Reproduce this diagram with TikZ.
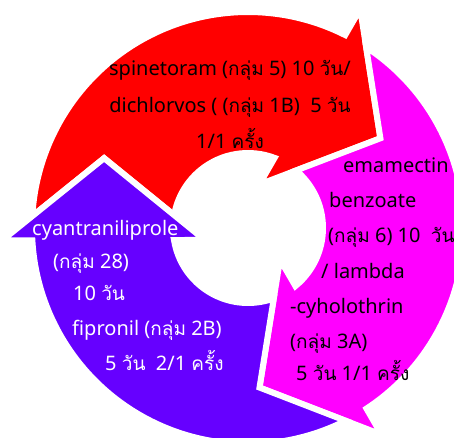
\documentclass[tikz,border=0pt]{standalone}
\usepackage{fontspec}
\setmainfont{Noto Sans}
\newfontfamily\thf[Script=Thai,Scale=0.95]{Loma}
\newcommand\kl{{\thf กลุ่ม}}
\newcommand\wn{{\thf วัน}}
\newcommand\kr{{\thf ครั้ง}}
\definecolor{ared}{RGB}{255,0,0}
\definecolor{amag}{RGB}{255,0,255}
\definecolor{apur}{RGB}{102,0,255}
\begin{document}
\begin{tikzpicture}[x=1pt,y=1pt,
  seg/.style={draw=white,line width=6pt,line join=miter},
  lbl/.style={inner sep=0pt,font=\fontsize{20}{24}\selectfont},
  blk/.style={lbl,text=black},
  wht/.style={lbl,text=white}]
\useasboundingbox (0,0) rectangle (454,437);
\clip (0,0) rectangle (454,437);
\foreach \rot/\col in {0/ared,-120/amag,-240/apur}{
  \begin{scope}[shift={(248,209)},rotate=\rot]
    \path[seg,fill=\col] (176.84:216) arc[start angle=176.84,end angle=63.26,radius=216]
      -- (112.2,218.9) -- (132.4,89.7) -- (11.3,43.5) -- (69.22:75)
      arc[start angle=69.22,end angle=170.1,radius=75] -- (-143.9,69.8) -- cycle;
  \end{scope}
}
% red texts
\node[blk,anchor=base] (r1) at (230,361) {spinetoram (\kl\ 5) 10 \wn/};
\node[blk,anchor=base] (r2) at (230,324) {dichlorvos ( (\kl\ 1B)\ \ 5 \wn};
\node[blk,anchor=base] (r3) at (230,289) {1/1 \kr};
% magenta texts
\node[blk,anchor=base west] (m1) at (343,265) {emamectin};
\node[blk,anchor=base west] (m2) at (329,230) {benzoate};
\node[blk,anchor=base west] (m3) at (328,195) {(\kl\ 6) 10 \ \wn};
\node[blk,anchor=base west] (m4) at (321,159) {/ lambda};
\node[blk,anchor=base west] (m5) at (290,124) {-cyholothrin};
\node[blk,anchor=base west] (m6) at (290,89) {(\kl\ 3A)};
\node[blk,anchor=base west] (m7) at (296,57) {5 \wn\ 1/1 \kr};
% purple texts
\node[wht,anchor=base west] (p1) at (32,202) {cyantraniliprole};
\node[wht,anchor=base west] (p2) at (53,169) {(\kl\ 28)};
\node[wht,anchor=base west] (p3) at (73,137) {10 \wn};
\node[wht,anchor=base west] (p4) at (72,102) {fipronil (\kl\ 2B)};
\node[wht,anchor=base west] (p5) at (105,67) {5 \wn\ \ 2/1 \kr};
\end{tikzpicture}
\end{document}
